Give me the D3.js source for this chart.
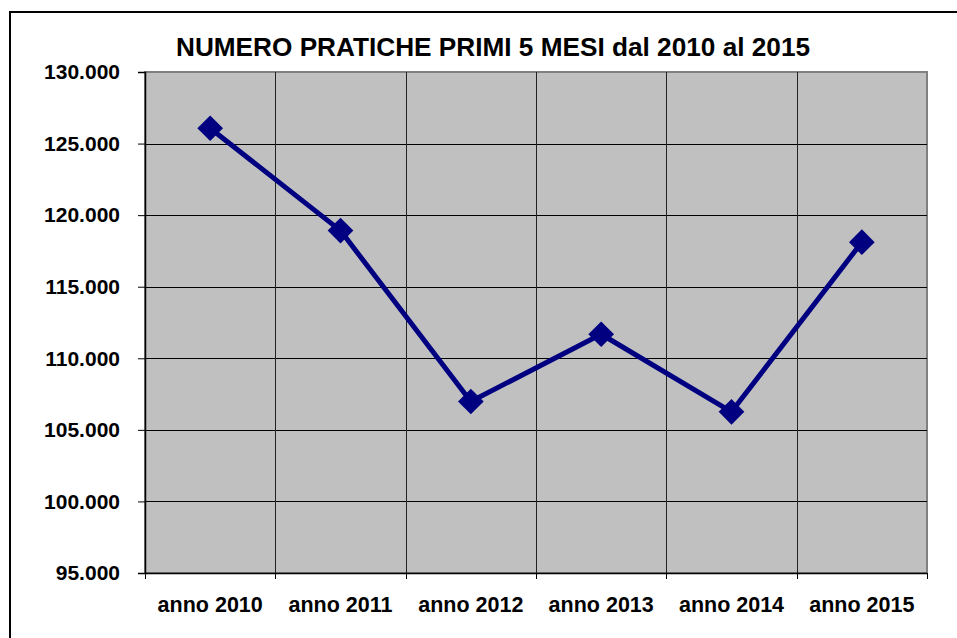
<!DOCTYPE html>
<html lang="it">
<head>
  <meta charset="utf-8">
  <title>Numero pratiche primi 5 mesi</title>
  <style>
    html, body { margin: 0; padding: 0; background: #fff; }
    svg { display: block; }
    text { font-family: "Liberation Sans", Arial, sans-serif; font-weight: bold; fill: #000; }
  </style>
</head>
<body>
  <div id="chart"></div>

<script src="https://cdn.jsdelivr.net/npm/d3@7/dist/d3.min.js"></script>
<script>

  ////////////////////////////////////////////////// DATA

  var categories = ["anno 2010", "anno 2011", "anno 2012", "anno 2013", "anno 2014", "anno 2015"];
  var values = [126070, 118920, 106980, 111680, 106260, 118110];
  var yTicks = [95000, 100000, 105000, 110000, 115000, 120000, 125000, 130000];
  var chartTitle = "NUMERO PRATICHE PRIMI 5 MESI dal 2010 al 2015";

  ////////////////////////////////////////////////// SETUP

  var width = 957, height = 638;
  var margin = {top: 72, right: 30, bottom: 65, left: 145};
  var plotWidth = 782;
  var plotHeight = 501;

  var svg = d3.select("#chart").append("svg")
    .attr("width", width)
    .attr("height", height);

  // outer chart frame (runs off the right and bottom edges)
  svg.append("rect")
    .attr("x", 10).attr("y", 12)
    .attr("width", 1000).attr("height", 700)
    .attr("fill", "none")
    .attr("stroke", "#000")
    .attr("stroke-width", 2);

  svg.append("text")
    .attr("x", 493).attr("y", 56)
    .attr("text-anchor", "middle")
    .style("font-size", "26.2px")
    .text(chartTitle);

  var g = svg.append("g")
    .attr("transform", "translate(" + margin.left + "," + margin.top + ")");

  var x = d3.scaleBand().domain(categories).range([0, plotWidth]).padding(0);
  var y = d3.scaleLinear().domain([95000, 130000]).range([plotHeight, 0]);

  // plot area
  g.append("rect")
    .attr("width", plotWidth).attr("height", plotHeight)
    .attr("fill", "#c0c0c0")
    .attr("stroke", "#808080")
    .attr("stroke-width", 2);

  // horizontal grid
  g.selectAll(".hgrid")
    .data(yTicks.slice(1, -1))
    .enter().append("line")
    .attr("x1", 0).attr("x2", plotWidth)
    .attr("y1", function(d) { return Math.round(y(d)) + 0.5; })
    .attr("y2", function(d) { return Math.round(y(d)) + 0.5; })
    .attr("stroke", "#000").attr("stroke-width", 1);

  // vertical grid at category boundaries
  g.selectAll(".vgrid")
    .data(categories.slice(1))
    .enter().append("line")
    .attr("x1", function(d) { return Math.round(x(d)) + 0.5; })
    .attr("x2", function(d) { return Math.round(x(d)) + 0.5; })
    .attr("y1", 0).attr("y2", plotHeight)
    .attr("stroke", "#222").attr("stroke-width", 1);

  // Y axis
  var yAxis = g.append("g")
    .call(d3.axisLeft(y).tickValues(yTicks).tickSize(7).tickPadding(18)
      .tickFormat(function(d) { return d3.format(",")(d).replace(/,/g, "."); }));
  yAxis.select(".domain").attr("stroke", "#000").attr("stroke-width", 1.5);
  yAxis.selectAll(".tick line").attr("stroke", "#000");
  yAxis.selectAll("text").style("font-size", "21px").attr("font-family", null);

  // X axis with ticks on category boundaries
  var xAxis = g.append("g")
    .attr("transform", "translate(0," + plotHeight + ")")
    .call(d3.axisBottom(x).tickSize(0).tickPadding(24));
  xAxis.select(".domain").attr("stroke", "#000").attr("stroke-width", 1.5);
  xAxis.selectAll("text").style("font-size", "21.5px").attr("font-family", null);

  var boundaries = categories.map(function(d) { return x(d); }).concat([plotWidth]);
  xAxis.selectAll(".bound")
    .data(boundaries)
    .enter().append("line")
    .attr("x1", function(d) { return Math.round(d) + 0.5; })
    .attr("x2", function(d) { return Math.round(d) + 0.5; })
    .attr("y1", 0).attr("y2", 6)
    .attr("stroke", "#000");

  // line series
  var line = d3.line()
    .x(function(d, i) { return x(categories[i]) + x.bandwidth() / 2; })
    .y(function(d) { return y(d); });

  g.append("path")
    .datum(values)
    .attr("d", line)
    .attr("fill", "none")
    .attr("stroke", "#000080")
    .attr("stroke-width", 5)
    .attr("stroke-linejoin", "round");

  // diamond markers
  g.selectAll(".marker")
    .data(values)
    .enter().append("path")
    .attr("d", d3.symbol().type(d3.symbolSquare).size(330))
    .attr("transform", function(d, i) {
      return "translate(" + (x(categories[i]) + x.bandwidth() / 2) + "," + y(d) + ") rotate(45)";
    })
    .attr("fill", "#000080");

</script>
</body>
</html>
